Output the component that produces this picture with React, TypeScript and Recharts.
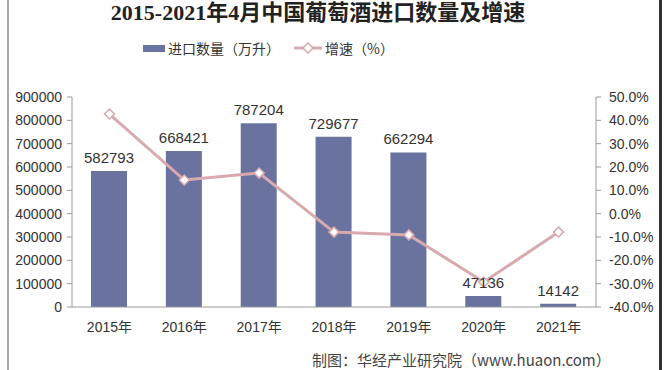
import React from 'react';
import { ComposedChart, Bar, Line, XAxis, YAxis, LabelList } from 'recharts';

const years = ['2015年', '2016年', '2017年', '2018年', '2019年', '2020年', '2021年'];
const volumes = [582793, 668421, 787204, 729677, 662294, 47136, 14142];
const rates = [42.7, 14.4, 17.4, -7.9, -9.1, -29.3, -7.9];
const leftTicks = [0, 100000, 200000, 300000, 400000, 500000, 600000, 700000, 800000, 900000];
const rightTicks = [-40, -30, -20, -10, 0, 10, 20, 30, 40, 50];
const boundaryTicks = [0, 1, 2, 3, 4, 5, 6, 7];

const data = years.map((year, i) => ({ year, volume: volumes[i], rate: rates[i] }));

const BAR = '#6A739F';
const LINE = '#D8AAB0';
const AXIS = '#9A9A9A';
const FONT = '"Liberation Sans", Arial, "Noto Sans CJK SC", sans-serif';

const Diamond = (props: any) => {
  const { cx, cy, index } = props;
  if (cx == null || cy == null) return null;
  const r = 5;
  return (
    <polygon
      key={`d-${index}`}
      points={`${cx},${cy - r} ${cx + r},${cy} ${cx},${cy + r} ${cx - r},${cy}`}
      fill="#fff"
      stroke={LINE}
      strokeWidth={1.5}
    />
  );
};

export default function App() {
  return (
    <div style={{ position: 'absolute', left: 0, top: 0, width: 666, height: 370, overflow: 'hidden', background: '#fff', fontFamily: FONT }}>
      <div style={{ position: 'absolute', left: 7, top: 0, width: 2, height: 370, background: '#aaa' }} />
      <div style={{ position: 'absolute', left: 659, top: 0, width: 3, height: 370, background: '#333' }} />
      <div style={{ position: 'absolute', left: 0, top: -6, width: 636, textAlign: 'center', fontFamily: '"Liberation Serif", "Noto Sans CJK SC", serif', fontWeight: 'bold', fontSize: 22, color: '#222', whiteSpace: 'nowrap' }}>
        2015-2021年4月中国葡萄酒进口数量及增速
      </div>
      <div style={{ position: 'absolute', left: 143, top: 38, display: 'flex', alignItems: 'center', fontSize: 14, color: '#333', fontFamily: '"Noto Sans CJK SC", sans-serif', whiteSpace: 'nowrap' }}>
        <span style={{ display: 'inline-block', width: 22, height: 7, background: BAR, marginRight: 3 }} />
        <span>进口数量（万升）</span>
        <svg width={28} height={12} style={{ marginLeft: 14, marginRight: 3 }}>
          <line x1={0} y1={6} x2={28} y2={6} stroke={LINE} strokeWidth={3} />
          <polygon points="14,1 19,6 14,11 9,6" fill="#fff" stroke={LINE} strokeWidth={1.5} />
        </svg>
        <span>增速（%）</span>
      </div>
      <ComposedChart
        width={666}
        height={370}
        data={data}
        margin={{ top: 97, right: 0, bottom: 33, left: 0 }}
        style={{ position: 'absolute', left: 0, top: 0 }}
      >
        <XAxis
          xAxisId="cat"
          dataKey="year"
          height={30}
          interval={0}
          tickLine={false}
          tickSize={0}
          tickMargin={15}
          axisLine={{ stroke: AXIS }}
          tick={{ fill: '#333', fontSize: 14, fontFamily: FONT }}
        />
        <XAxis
          xAxisId="grid"
          type="number"
          domain={[0, 7]}
          ticks={boundaryTicks}
          allowDataOverflow
          height={0}
          axisLine={false}
          tick={false}
          tickSize={5}
          tickLine={{ stroke: AXIS }}
        />
        <YAxis
          yAxisId="left"
          domain={[0, 900000]}
          ticks={leftTicks}
          interval={0}
          width={72}
          tickSize={5}
          tickMargin={5}
          axisLine={{ stroke: AXIS }}
          tickLine={{ stroke: AXIS }}
          tick={{ fill: '#333', fontSize: 14, fontFamily: FONT }}
        />
        <YAxis
          yAxisId="right"
          orientation="right"
          domain={[-40, 50]}
          ticks={rightTicks}
          interval={0}
          width={70}
          tickSize={5}
          tickMargin={8}
          axisLine={{ stroke: AXIS }}
          tickLine={{ stroke: AXIS }}
          tickFormatter={(v: number) => `${v.toFixed(1)}%`}
          tick={{ fill: '#333', fontSize: 14, fontFamily: FONT }}
        />
        <Bar xAxisId="cat" yAxisId="left" dataKey="volume" fill={BAR} barSize={36} isAnimationActive={false}>
          <LabelList dataKey="volume" position="top" offset={8} fill="#333" fontSize={15} fontFamily={FONT} />
        </Bar>
        <Line
          xAxisId="cat"
          yAxisId="right"
          dataKey="rate"
          stroke={LINE}
          strokeWidth={3}
          dot={Diamond}
          activeDot={false}
          isAnimationActive={false}
        />
      </ComposedChart>
      <div style={{ position: 'absolute', left: 312, top: 351, fontSize: 15, lineHeight: '17px', color: '#444', fontFamily: '"Noto Sans CJK SC", sans-serif', whiteSpace: 'nowrap' }}>
        制图：华经产业研究院（www.huaon.com）
      </div>
    </div>
  );
}
